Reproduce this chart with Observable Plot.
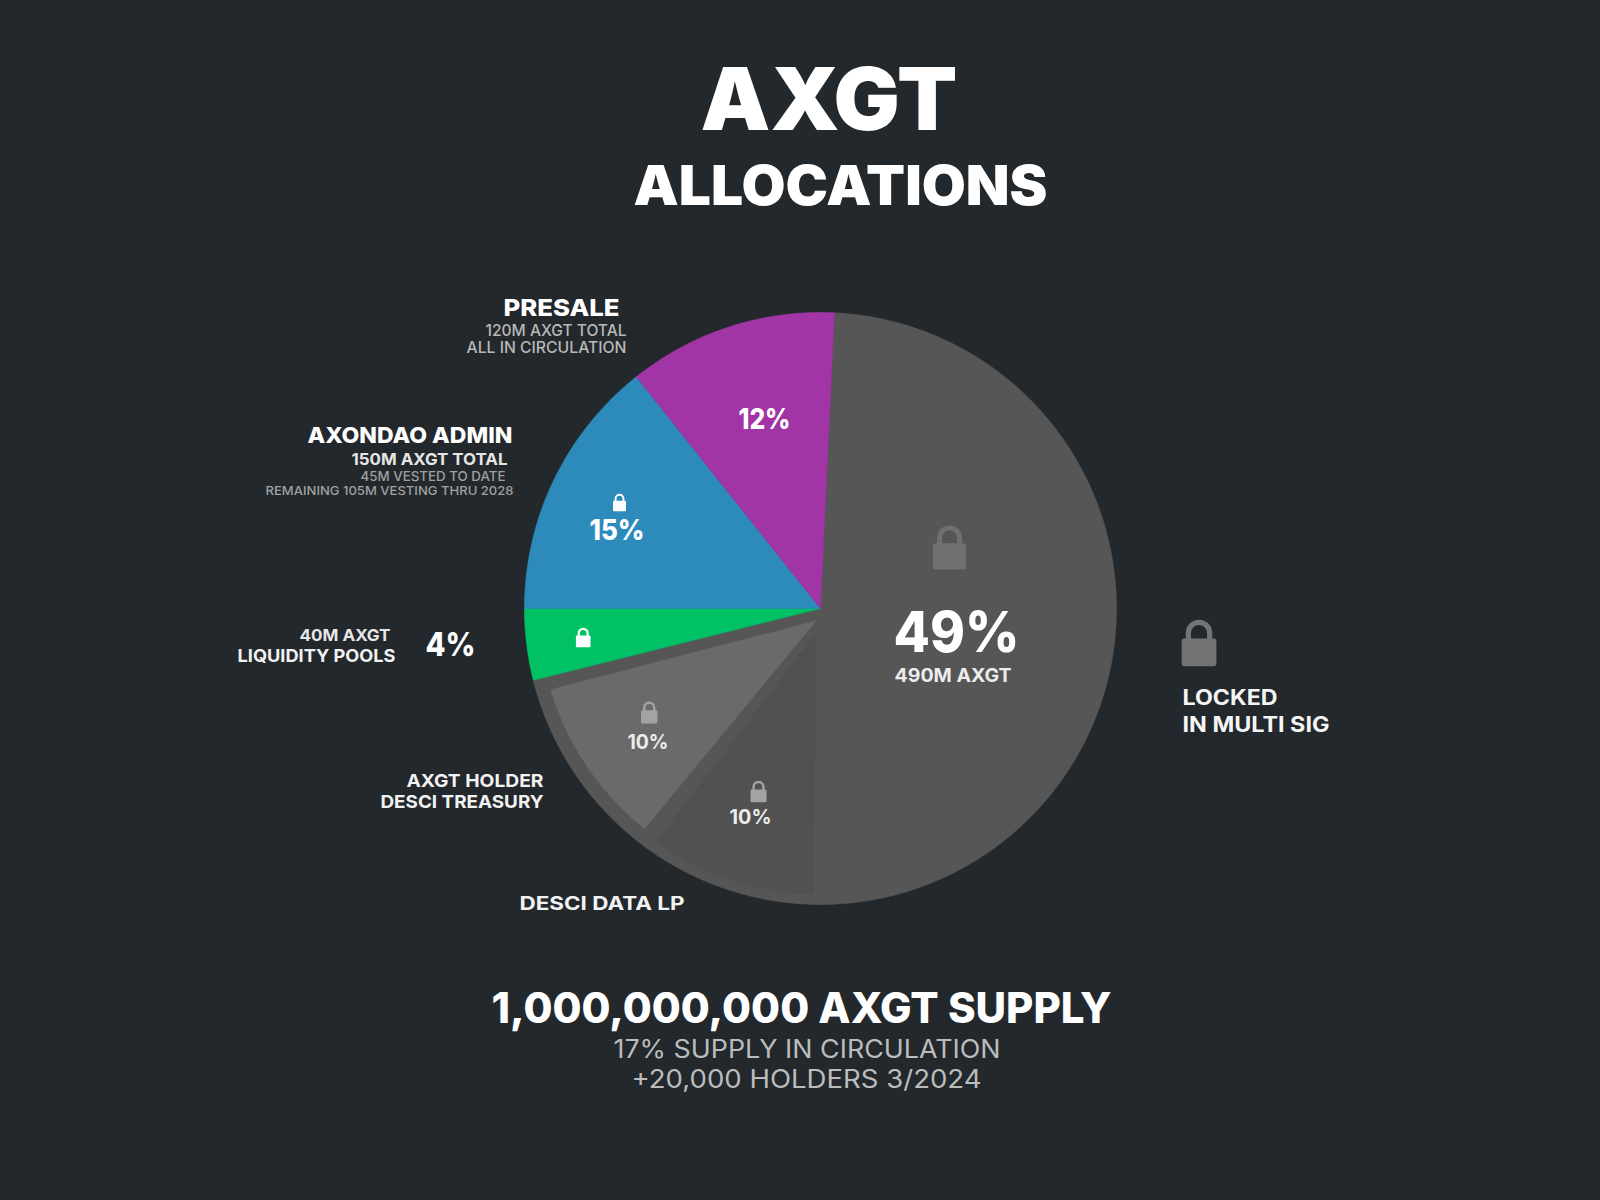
<!DOCTYPE html>
<html>
<head>
<meta charset="utf-8">
<script src="https://cdn.jsdelivr.net/npm/d3@7"></script>
<script src="https://cdn.jsdelivr.net/npm/@observablehq/plot@0.6"></script>
<style>
  html, body { margin: 0; padding: 0; background: #22282c; }
  svg { display: block; }
</style>
</head>
<body>
<div id="chart"></div>
<script>
// ---- data ----
const sectorNames  = ["Locked in multi sig", "Liquidity pools", "AxonDAO admin", "Presale"];
const sectorShares = [70.36, 3.89, 14.31, 11.44];   // arc share as drawn, clockwise
const sectorColors = ["#565656", "#00c264", "#2d8bbb", "#a135a5"];

const insetNames  = ["DeSci data LP", "AXGT holder DeSci treasury"];
const insetShares = [9.39, 9.64];
const insetColors = ["#515151", "#6a6a6a"];

const titleText  = "AXGT";
const subtitle   = "ALLOCATIONS";
const percentLabels = ["49%", "12%", "15%", "4%", "10%", "10%"];
const supplyLines = ["1,000,000,000 AXGT SUPPLY", "17% SUPPLY IN CIRCULATION", "+20,000 HOLDERS 3/2024"];

// ---- layout ----
const cx = 820, cy = 608, R = 296;
const startDeg = 2.7;
const insetLayout = [
  {start: 181.4, apex: [816, 632], r: 286},
  {start: 218.6, apex: [816, 620], r: 282}
];

const pt = (deg, r, c = [cx, cy]) => {
  const a = deg * Math.PI / 180;
  return {x: c[0] + r * Math.sin(a), y: c[1] - r * Math.cos(a)};
};
function wedge(name, from, share, r, apex) {
  const sweep = share * 3.6;
  const n = Math.ceil(sweep);
  const pts = [{...pt(0, 0, apex), name}];
  for (let i = 0; i <= n; ++i) pts.push({...pt(from + sweep * i / n, r), name});
  pts.push(pts[0]);
  return pts;
}
let acc = startDeg;
const sectorPts = sectorNames.flatMap((name, i) => {
  const w = wedge(name, acc, sectorShares[i], R, [cx, cy]);
  acc += sectorShares[i] * 3.6;
  return w;
});
const insetPts = insetNames.flatMap((name, i) =>
  wedge(name, insetLayout[i].start, insetShares[i], insetLayout[i].r, insetLayout[i].apex));

// custom padlock symbol: r is half of the body width
const lockSymbol = {
  draw(ctx, size) {
    const w = Math.sqrt(size / Math.PI);          // half width
    const h = w * 1.34;                           // half total height
    const bodyTop = -h + w * 1.08;
    const rad = w * 0.16;
    ctx.moveTo(-w + rad, bodyTop);
    ctx.lineTo(w - rad, bodyTop);
    ctx.arcTo(w, bodyTop, w, bodyTop + rad, rad);
    ctx.lineTo(w, h - rad);
    ctx.arcTo(w, h, w - rad, h, rad);
    ctx.lineTo(-w + rad, h);
    ctx.arcTo(-w, h, -w, h - rad, rad);
    ctx.lineTo(-w, bodyTop + rad);
    ctx.arcTo(-w, bodyTop, -w + rad, bodyTop, rad);
    ctx.closePath();
    const ro = w * 0.76, ri = w * 0.46, yc = -h + ro;
    ctx.moveTo(-ro, bodyTop + rad);
    ctx.lineTo(-ro, yc);
    ctx.arc(0, yc, ro, Math.PI, 0, false);
    ctx.lineTo(ro, bodyTop + rad);
    ctx.lineTo(ri, bodyTop + rad);
    ctx.lineTo(ri, yc);
    ctx.arc(0, yc, ri, 0, Math.PI, true);
    ctx.lineTo(-ri, bodyTop + rad);
    ctx.closePath();
  }
};
const locks = [
  {x: 949,    y: 547,   r: 16.5, c: "#707070"},
  {x: 1198.5, y: 642.5, r: 17.4, c: "#737373"},
  {x: 619,    y: 502,   r: 6.5,  c: "#ffffff"},
  {x: 582.7,  y: 637,   r: 7.3,  c: "#ffffff"},
  {x: 648.7,  y: 712,   r: 8.2,  c: "#a3a3a3"},
  {x: 758,    y: 791,   r: 8,    c: "#a3a3a3"}
];

// text rows: text, left x, baseline y, width, font size, weight, colour
const rows = [
  [titleText, 700, 129, 257, 87, 900, "#ffffff"],
  [subtitle, 633, 204, 414, 55, 900, "#ffffff"],
  ["PRESALE", 503, 315, 116, 23.5, 800, "#ffffff"],
  ["120M AXGT TOTAL", 485, 335, 141, 16, 500, "#b8b8b8"],
  ["ALL IN CIRCULATION", 466, 352, 160, 15.5, 500, "#b8b8b8"],
  ["AXONDAO ADMIN", 307, 442, 205, 22, 800, "#ffffff"],
  ["150M AXGT TOTAL", 351, 464, 156, 16.5, 700, "#e6e6e6"],
  ["45M VESTED TO DATE", 360, 480, 145, 13.5, 500, "#a0a0a0"],
  ["REMAINING 105M VESTING THRU 2028", 265, 494, 248, 12, 500, "#a0a0a0"],
  ["40M AXGT", 299, 640, 91, 16.5, 700, "#e6e6e6"],
  ["LIQUIDITY POOLS", 237, 661, 158, 17.5, 700, "#f2f2f2"],
  [percentLabels[3], 425, 655, 50, 33, 800, "#ffffff"],
  ["AXGT HOLDER", 406, 786, 137, 18, 700, "#f2f2f2"],
  ["DESCI TREASURY", 380, 807, 163, 18, 700, "#f2f2f2"],
  ["DESCI DATA LP", 519, 909, 165, 19, 700, "#f2f2f2"],
  [percentLabels[0], 893, 651, 126, 56, 800, "#ffffff"],
  ["490M AXGT", 894, 681, 117, 19, 700, "#ececec"],
  ["LOCKED", 1182, 704, 95, 21, 700, "#f5f5f5"],
  ["IN MULTI SIG", 1182, 731, 147, 21, 700, "#f5f5f5"],
  [percentLabels[4], 627, 748, 41, 19.5, 700, "#ececec"],
  [percentLabels[5], 729, 823, 42, 19.5, 700, "#ececec"],
  [percentLabels[1], 738, 428, 52, 28, 800, "#ffffff"],
  [percentLabels[2], 589, 539, 55, 29, 800, "#ffffff"],
  [supplyLines[0], 491, 1022, 620, 42, 800, "#ffffff"],
  [supplyLines[1], 613, 1057, 387, 25, 400, "#bcbcbc"],
  [supplyLines[2], 631, 1087, 350, 25, 400, "#bcbcbc"]
];

const textMarks = rows.map(([text, x, y, w, size, weight, fill]) =>
  Plot.text([{text, x, y}], {
    x: "x", y: "y", text: "text",
    textAnchor: "start", lineAnchor: "bottom",
    fontFamily: "Inter, 'Open Sans', sans-serif",
    fontSize: size, fontWeight: weight, fill,
    render(index, scales, values, dimensions, context, next) {
      const g = next(index, scales, values, dimensions, context);
      d3.select(g).selectAll("text")
        .attr("textLength", w)
        .attr("lengthAdjust", "spacingAndGlyphs");
      return g;
    }
  }));

const chart = Plot.plot({
  width: 1600,
  height: 1200,
  margin: 0,
  x: {domain: [0, 1600], axis: null},
  y: {domain: [1200, 0], axis: null},
  color: {
    domain: [...sectorNames, ...insetNames],
    range: [...sectorColors, ...insetColors]
  },
  style: {background: "#22282c", color: "#ffffff"},
  marks: [
    Plot.line(sectorPts, {x: "x", y: "y", z: "name", fill: "name", stroke: "name", strokeWidth: 0.6}),
    Plot.line(insetPts, {x: "x", y: "y", z: "name", fill: "name", stroke: "none"}),
    locks.map(l => Plot.dot([l], {x: "x", y: "y", r: l.r, symbol: lockSymbol, fill: l.c, stroke: "none"})),
    textMarks
  ]
});
document.getElementById("chart").append(chart);
</script>
</body>
</html>
